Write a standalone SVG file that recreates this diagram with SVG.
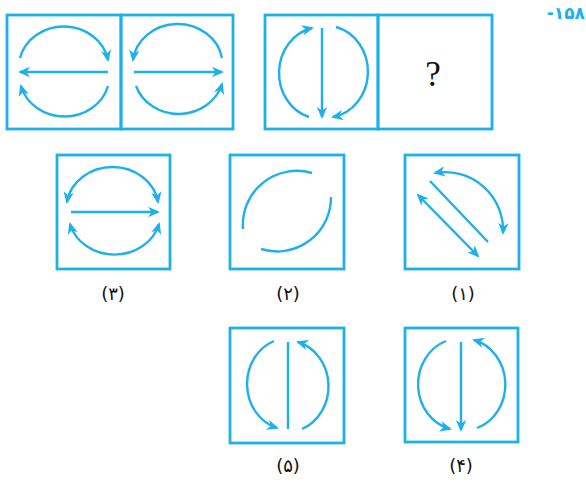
<svg xmlns="http://www.w3.org/2000/svg" width="586" height="486" viewBox="0 0 586 486">
<style>
.box{fill:none;stroke:#1eb1e9;stroke-width:2.8}
.ln{fill:none;stroke:#1eb1e9;stroke-width:2.4}
.a{marker-end:url(#ah)}
.b{marker-start:url(#ah);marker-end:url(#ah)}
.lbl{font-family:"DejaVu Sans",sans-serif;font-size:18px;fill:#111;text-anchor:middle}
</style>
<defs>
<marker id="ah" viewBox="-12 -6 15 12" refX="0" refY="0" markerWidth="15" markerHeight="12" markerUnits="userSpaceOnUse" orient="auto-start-reverse">
<path d="M2,0 L-10,-5.2 L-6.5,0 L-10,5.2 Z" fill="#1eb1e9"/>
</marker>
</defs>
<rect width="586" height="486" fill="#fff"/>
<text x="585" y="19" font-family="DejaVu Sans,sans-serif" font-weight="bold" font-size="17" fill="#1eb1e9" text-anchor="end">-۱۵۸</text>
<g id="q1">
<rect class="box" x="7" y="15" width="114" height="114"/>
</g>
<g id="q2">
<rect class="box" x="121" y="15" width="112" height="114"/>
</g>
<g id="q3">
<rect class="box" x="265" y="15" width="113" height="114"/>
</g>
<g id="q4">
<rect class="box" x="378" y="15" width="114" height="114"/>
<text x="433" y="86" font-family="Liberation Serif,serif" font-size="35" fill="#111" text-anchor="middle">?</text>
</g>
<g id="opt3">
<rect class="box" x="57" y="155" width="113" height="114"/>
<text class="lbl" x="113" y="300">(۳)</text>
</g>
<g id="opt2">
<rect class="box" x="230" y="155" width="114" height="114"/>
<text class="lbl" x="288" y="300">(۲)</text>
</g>
<g id="opt1">
<rect class="box" x="405" y="155" width="114" height="114"/>
<text class="lbl" x="463" y="300">(۱)</text>
</g>
<g id="opt5">
<rect class="box" x="230" y="328" width="114" height="115"/>
<text class="lbl" x="288" y="472">(۵)</text>
</g>
<g id="opt4">
<rect class="box" x="405" y="328" width="113" height="114"/>
<text class="lbl" x="461" y="472">(۴)</text>
</g>
<g id="connectors">
<path class="ln a" d="M20,58 A45,41 0 0 1 108,60"/>
<path class="ln a" d="M108,72 L20,72"/>
<path class="ln a" d="M108,86 A45,41 0 0 1 21,86"/>
<path class="ln a" d="M222,58 A45,41 0 0 0 133,60"/>
<path class="ln a" d="M134,72 L222,72"/>
<path class="ln a" d="M136,86 A45,41 0 0 0 222,84"/>
<path class="ln a" d="M322,28 L322,117"/>
<path class="ln a" d="M309,117 A42,46 0 0 1 312,28"/>
<path class="ln a" d="M336,27 A42,46 0 0 1 333,117"/>
<path class="ln b" d="M67,202 A46,41 0 0 1 158,202"/>
<path class="ln a" d="M71,212 L158,212"/>
<path class="ln b" d="M70,224 A46,41 0 0 0 159,224"/>
<path class="ln" d="M243,229 A54,54 0 0 1 312,173"/>
<path class="ln" d="M331,197 A54,54 0 0 1 261,249"/>
<path class="ln" d="M430,181 L488,242"/>
<path class="ln b" d="M418,195 L478,256"/>
<path class="ln b" d="M435,173 A58,58 0 0 1 503,233"/>
<path class="ln" d="M288,342 L288,429"/>
<path class="ln a" d="M274,341 A42,46 0 0 0 277,428"/>
<path class="ln a" d="M302,429 A42,46 0 0 0 298,342"/>
<path class="ln a" d="M461,342 L461,430"/>
<path class="ln a" d="M446,341 A42,46 0 0 0 450,429"/>
<path class="ln a" d="M477,428 A42,46 0 0 0 474,340"/>
</g>
</svg>
